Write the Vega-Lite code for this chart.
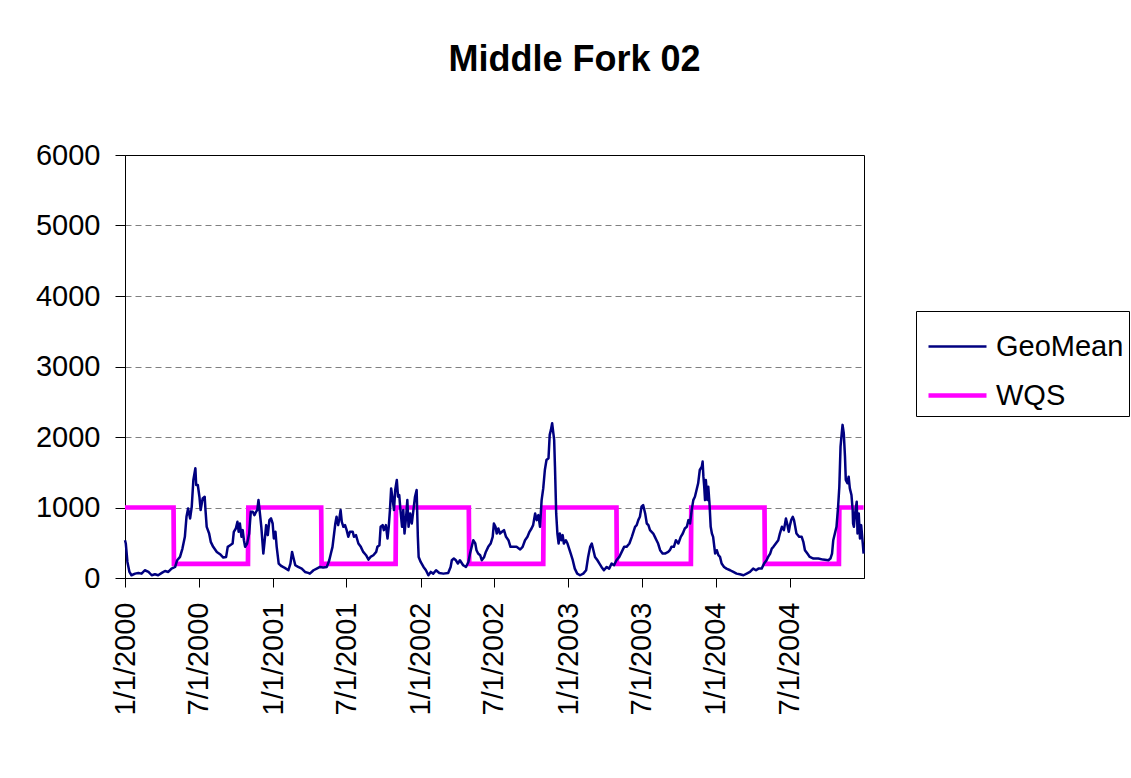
{
 "$schema": "https://vega.github.io/schema/vega-lite/v6.json",
 "width": 739,
 "height": 423,
 "autosize": {"type": "none"},
 "padding": {"left": 125, "top": 155, "right": 267, "bottom": 200},
 "background": "white",
 "title": {"text": "Middle Fork 02", "font": "Liberation Sans", "fontSize": 36, "fontWeight": "bold", "color": "black", "anchor": "middle", "frame": "group", "dx": 80, "offset": 62},
 "config": {"view": {"stroke": "black", "strokeWidth": 1}, "font": "Liberation Sans"},
 "data": {"values": [
  {"d":"2000-01-01","v":1000,"s":"WQS"},{"d":"2000-04-30","v":1000,"s":"WQS"},{"d":"2000-05-01","v":200,"s":"WQS"},{"d":"2000-10-31","v":200,"s":"WQS"},{"d":"2000-11-01","v":1000,"s":"WQS"},{"d":"2001-04-30","v":1000,"s":"WQS"},{"d":"2001-05-01","v":200,"s":"WQS"},{"d":"2001-10-31","v":200,"s":"WQS"},{"d":"2001-11-01","v":1000,"s":"WQS"},{"d":"2002-04-30","v":1000,"s":"WQS"},{"d":"2002-05-01","v":200,"s":"WQS"},{"d":"2002-10-31","v":200,"s":"WQS"},{"d":"2002-11-01","v":1000,"s":"WQS"},{"d":"2003-04-30","v":1000,"s":"WQS"},{"d":"2003-05-01","v":200,"s":"WQS"},{"d":"2003-10-31","v":200,"s":"WQS"},{"d":"2003-11-01","v":1000,"s":"WQS"},{"d":"2004-04-30","v":1000,"s":"WQS"},{"d":"2004-05-01","v":200,"s":"WQS"},{"d":"2004-10-31","v":200,"s":"WQS"},{"d":"2004-11-01","v":1000,"s":"WQS"},{"d":"2004-12-31","v":1000,"s":"WQS"},
  {"d":"2000-01-01","v":536,"s":"GeoMean"},{"d":"2000-01-03","v":489,"s":"GeoMean"},{"d":"2000-01-07","v":228,"s":"GeoMean"},{"d":"2000-01-12","v":86,"s":"GeoMean"},{"d":"2000-01-17","v":39,"s":"GeoMean"},{"d":"2000-01-26","v":62,"s":"GeoMean"},{"d":"2000-02-03","v":72,"s":"GeoMean"},{"d":"2000-02-11","v":62,"s":"GeoMean"},{"d":"2000-02-19","v":110,"s":"GeoMean"},{"d":"2000-02-28","v":86,"s":"GeoMean"},{"d":"2000-03-07","v":39,"s":"GeoMean"},{"d":"2000-03-15","v":53,"s":"GeoMean"},{"d":"2000-03-23","v":39,"s":"GeoMean"},{"d":"2000-04-01","v":72,"s":"GeoMean"},{"d":"2000-04-09","v":100,"s":"GeoMean"},{"d":"2000-04-17","v":86,"s":"GeoMean"},{"d":"2000-04-25","v":133,"s":"GeoMean"},{"d":"2000-05-04","v":157,"s":"GeoMean"},{"d":"2000-05-09","v":252,"s":"GeoMean"},{"d":"2000-05-16","v":299,"s":"GeoMean"},{"d":"2000-05-22","v":418,"s":"GeoMean"},{"d":"2000-05-28","v":584,"s":"GeoMean"},{"d":"2000-06-01","v":868,"s":"GeoMean"},{"d":"2000-06-05","v":987,"s":"GeoMean"},{"d":"2000-06-10","v":845,"s":"GeoMean"},{"d":"2000-06-14","v":1011,"s":"GeoMean"},{"d":"2000-06-18","v":1390,"s":"GeoMean"},{"d":"2000-06-23","v":1556,"s":"GeoMean"},{"d":"2000-06-25","v":1319,"s":"GeoMean"},{"d":"2000-06-29","v":1319,"s":"GeoMean"},{"d":"2000-07-03","v":1153,"s":"GeoMean"},{"d":"2000-07-06","v":963,"s":"GeoMean"},{"d":"2000-07-11","v":1129,"s":"GeoMean"},{"d":"2000-07-16","v":1153,"s":"GeoMean"},{"d":"2000-07-18","v":963,"s":"GeoMean"},{"d":"2000-07-21","v":726,"s":"GeoMean"},{"d":"2000-07-27","v":631,"s":"GeoMean"},{"d":"2000-07-31","v":513,"s":"GeoMean"},{"d":"2000-08-06","v":442,"s":"GeoMean"},{"d":"2000-08-15","v":370,"s":"GeoMean"},{"d":"2000-08-23","v":337,"s":"GeoMean"},{"d":"2000-08-31","v":290,"s":"GeoMean"},{"d":"2000-09-07","v":299,"s":"GeoMean"},{"d":"2000-09-11","v":442,"s":"GeoMean"},{"d":"2000-09-17","v":465,"s":"GeoMean"},{"d":"2000-09-23","v":489,"s":"GeoMean"},{"d":"2000-09-26","v":655,"s":"GeoMean"},{"d":"2000-10-01","v":702,"s":"GeoMean"},{"d":"2000-10-05","v":797,"s":"GeoMean"},{"d":"2000-10-08","v":655,"s":"GeoMean"},{"d":"2000-10-11","v":773,"s":"GeoMean"},{"d":"2000-10-15","v":584,"s":"GeoMean"},{"d":"2000-10-18","v":679,"s":"GeoMean"},{"d":"2000-10-21","v":536,"s":"GeoMean"},{"d":"2000-10-24","v":442,"s":"GeoMean"},{"d":"2000-10-29","v":489,"s":"GeoMean"},{"d":"2000-11-03","v":631,"s":"GeoMean"},{"d":"2000-11-07","v":939,"s":"GeoMean"},{"d":"2000-11-12","v":939,"s":"GeoMean"},{"d":"2000-11-16","v":892,"s":"GeoMean"},{"d":"2000-11-20","v":939,"s":"GeoMean"},{"d":"2000-11-23","v":963,"s":"GeoMean"},{"d":"2000-11-26","v":1105,"s":"GeoMean"},{"d":"2000-11-30","v":892,"s":"GeoMean"},{"d":"2000-12-03","v":726,"s":"GeoMean"},{"d":"2000-12-08","v":347,"s":"GeoMean"},{"d":"2000-12-11","v":513,"s":"GeoMean"},{"d":"2000-12-15","v":750,"s":"GeoMean"},{"d":"2000-12-19","v":608,"s":"GeoMean"},{"d":"2000-12-23","v":821,"s":"GeoMean"},{"d":"2000-12-27","v":845,"s":"GeoMean"},{"d":"2000-12-31","v":773,"s":"GeoMean"},
  {"d":"2001-01-03","v":560,"s":"GeoMean"},{"d":"2001-01-07","v":655,"s":"GeoMean"},{"d":"2001-01-10","v":442,"s":"GeoMean"},{"d":"2001-01-15","v":205,"s":"GeoMean"},{"d":"2001-01-22","v":167,"s":"GeoMean"},{"d":"2001-01-30","v":143,"s":"GeoMean"},{"d":"2001-02-08","v":110,"s":"GeoMean"},{"d":"2001-02-13","v":205,"s":"GeoMean"},{"d":"2001-02-17","v":370,"s":"GeoMean"},{"d":"2001-02-20","v":299,"s":"GeoMean"},{"d":"2001-02-25","v":181,"s":"GeoMean"},{"d":"2001-03-04","v":157,"s":"GeoMean"},{"d":"2001-03-13","v":133,"s":"GeoMean"},{"d":"2001-03-21","v":86,"s":"GeoMean"},{"d":"2001-03-29","v":72,"s":"GeoMean"},{"d":"2001-04-02","v":62,"s":"GeoMean"},{"d":"2001-04-11","v":110,"s":"GeoMean"},{"d":"2001-04-19","v":133,"s":"GeoMean"},{"d":"2001-04-27","v":157,"s":"GeoMean"},{"d":"2001-05-05","v":148,"s":"GeoMean"},{"d":"2001-05-14","v":157,"s":"GeoMean"},{"d":"2001-05-20","v":252,"s":"GeoMean"},{"d":"2001-05-24","v":347,"s":"GeoMean"},{"d":"2001-05-28","v":442,"s":"GeoMean"},{"d":"2001-06-01","v":631,"s":"GeoMean"},{"d":"2001-06-04","v":773,"s":"GeoMean"},{"d":"2001-06-07","v":868,"s":"GeoMean"},{"d":"2001-06-11","v":750,"s":"GeoMean"},{"d":"2001-06-14","v":845,"s":"GeoMean"},{"d":"2001-06-17","v":963,"s":"GeoMean"},{"d":"2001-06-20","v":797,"s":"GeoMean"},{"d":"2001-06-24","v":726,"s":"GeoMean"},{"d":"2001-06-28","v":750,"s":"GeoMean"},{"d":"2001-07-02","v":679,"s":"GeoMean"},{"d":"2001-07-06","v":584,"s":"GeoMean"},{"d":"2001-07-10","v":655,"s":"GeoMean"},{"d":"2001-07-17","v":655,"s":"GeoMean"},{"d":"2001-07-20","v":584,"s":"GeoMean"},{"d":"2001-07-25","v":608,"s":"GeoMean"},{"d":"2001-07-31","v":489,"s":"GeoMean"},{"d":"2001-08-06","v":442,"s":"GeoMean"},{"d":"2001-08-12","v":370,"s":"GeoMean"},{"d":"2001-08-19","v":323,"s":"GeoMean"},{"d":"2001-08-25","v":261,"s":"GeoMean"},{"d":"2001-08-30","v":299,"s":"GeoMean"},{"d":"2001-09-06","v":323,"s":"GeoMean"},{"d":"2001-09-13","v":370,"s":"GeoMean"},{"d":"2001-09-16","v":442,"s":"GeoMean"},{"d":"2001-09-21","v":465,"s":"GeoMean"},{"d":"2001-09-24","v":726,"s":"GeoMean"},{"d":"2001-09-29","v":750,"s":"GeoMean"},{"d":"2001-10-02","v":679,"s":"GeoMean"},{"d":"2001-10-07","v":750,"s":"GeoMean"},{"d":"2001-10-11","v":560,"s":"GeoMean"},{"d":"2001-10-14","v":726,"s":"GeoMean"},{"d":"2001-10-17","v":963,"s":"GeoMean"},{"d":"2001-10-20","v":1271,"s":"GeoMean"},{"d":"2001-10-24","v":1105,"s":"GeoMean"},{"d":"2001-10-27","v":963,"s":"GeoMean"},{"d":"2001-10-30","v":1248,"s":"GeoMean"},{"d":"2001-11-03","v":1390,"s":"GeoMean"},{"d":"2001-11-06","v":1153,"s":"GeoMean"},{"d":"2001-11-09","v":1177,"s":"GeoMean"},{"d":"2001-11-12","v":963,"s":"GeoMean"},{"d":"2001-11-16","v":726,"s":"GeoMean"},{"d":"2001-11-19","v":963,"s":"GeoMean"},{"d":"2001-11-22","v":631,"s":"GeoMean"},{"d":"2001-11-26","v":868,"s":"GeoMean"},{"d":"2001-11-29","v":1105,"s":"GeoMean"},{"d":"2001-12-02","v":726,"s":"GeoMean"},{"d":"2001-12-06","v":916,"s":"GeoMean"},{"d":"2001-12-10","v":773,"s":"GeoMean"},{"d":"2001-12-14","v":963,"s":"GeoMean"},{"d":"2001-12-18","v":1153,"s":"GeoMean"},{"d":"2001-12-22","v":1248,"s":"GeoMean"},{"d":"2001-12-25","v":584,"s":"GeoMean"},{"d":"2001-12-27","v":299,"s":"GeoMean"},
  {"d":"2002-01-01","v":228,"s":"GeoMean"},{"d":"2002-01-08","v":157,"s":"GeoMean"},{"d":"2002-01-14","v":110,"s":"GeoMean"},{"d":"2002-01-20","v":39,"s":"GeoMean"},{"d":"2002-01-26","v":86,"s":"GeoMean"},{"d":"2002-02-01","v":62,"s":"GeoMean"},{"d":"2002-02-08","v":110,"s":"GeoMean"},{"d":"2002-02-16","v":72,"s":"GeoMean"},{"d":"2002-02-26","v":62,"s":"GeoMean"},{"d":"2002-03-10","v":72,"s":"GeoMean"},{"d":"2002-03-16","v":157,"s":"GeoMean"},{"d":"2002-03-19","v":252,"s":"GeoMean"},{"d":"2002-03-24","v":276,"s":"GeoMean"},{"d":"2002-03-29","v":252,"s":"GeoMean"},{"d":"2002-04-03","v":205,"s":"GeoMean"},{"d":"2002-04-08","v":252,"s":"GeoMean"},{"d":"2002-04-16","v":181,"s":"GeoMean"},{"d":"2002-04-23","v":157,"s":"GeoMean"},{"d":"2002-04-29","v":228,"s":"GeoMean"},{"d":"2002-05-03","v":347,"s":"GeoMean"},{"d":"2002-05-07","v":442,"s":"GeoMean"},{"d":"2002-05-11","v":536,"s":"GeoMean"},{"d":"2002-05-16","v":489,"s":"GeoMean"},{"d":"2002-05-19","v":394,"s":"GeoMean"},{"d":"2002-05-23","v":347,"s":"GeoMean"},{"d":"2002-05-28","v":323,"s":"GeoMean"},{"d":"2002-06-01","v":252,"s":"GeoMean"},{"d":"2002-06-07","v":299,"s":"GeoMean"},{"d":"2002-06-11","v":370,"s":"GeoMean"},{"d":"2002-06-17","v":442,"s":"GeoMean"},{"d":"2002-06-23","v":489,"s":"GeoMean"},{"d":"2002-06-28","v":584,"s":"GeoMean"},{"d":"2002-07-01","v":773,"s":"GeoMean"},{"d":"2002-07-05","v":726,"s":"GeoMean"},{"d":"2002-07-08","v":631,"s":"GeoMean"},{"d":"2002-07-12","v":702,"s":"GeoMean"},{"d":"2002-07-16","v":631,"s":"GeoMean"},{"d":"2002-07-21","v":655,"s":"GeoMean"},{"d":"2002-07-26","v":679,"s":"GeoMean"},{"d":"2002-07-31","v":584,"s":"GeoMean"},{"d":"2002-08-06","v":536,"s":"GeoMean"},{"d":"2002-08-11","v":442,"s":"GeoMean"},{"d":"2002-08-18","v":442,"s":"GeoMean"},{"d":"2002-08-26","v":442,"s":"GeoMean"},{"d":"2002-09-04","v":404,"s":"GeoMean"},{"d":"2002-09-10","v":442,"s":"GeoMean"},{"d":"2002-09-16","v":536,"s":"GeoMean"},{"d":"2002-09-22","v":584,"s":"GeoMean"},{"d":"2002-09-27","v":655,"s":"GeoMean"},{"d":"2002-10-02","v":702,"s":"GeoMean"},{"d":"2002-10-06","v":750,"s":"GeoMean"},{"d":"2002-10-11","v":916,"s":"GeoMean"},{"d":"2002-10-15","v":821,"s":"GeoMean"},{"d":"2002-10-19","v":892,"s":"GeoMean"},{"d":"2002-10-23","v":726,"s":"GeoMean"},{"d":"2002-10-27","v":1105,"s":"GeoMean"},{"d":"2002-10-31","v":1271,"s":"GeoMean"},{"d":"2002-11-04","v":1532,"s":"GeoMean"},{"d":"2002-11-08","v":1674,"s":"GeoMean"},{"d":"2002-11-13","v":1698,"s":"GeoMean"},{"d":"2002-11-16","v":2030,"s":"GeoMean"},{"d":"2002-11-19","v":2101,"s":"GeoMean"},{"d":"2002-11-22","v":2196,"s":"GeoMean"},{"d":"2002-11-25","v":2054,"s":"GeoMean"},{"d":"2002-11-27","v":1959,"s":"GeoMean"},{"d":"2002-11-29","v":1580,"s":"GeoMean"},{"d":"2002-12-02","v":916,"s":"GeoMean"},{"d":"2002-12-05","v":631,"s":"GeoMean"},{"d":"2002-12-08","v":489,"s":"GeoMean"},{"d":"2002-12-11","v":631,"s":"GeoMean"},{"d":"2002-12-15","v":536,"s":"GeoMean"},{"d":"2002-12-18","v":608,"s":"GeoMean"},{"d":"2002-12-21","v":489,"s":"GeoMean"},{"d":"2002-12-26","v":536,"s":"GeoMean"},{"d":"2002-12-30","v":489,"s":"GeoMean"},
  {"d":"2003-01-03","v":418,"s":"GeoMean"},{"d":"2003-01-07","v":347,"s":"GeoMean"},{"d":"2003-01-12","v":252,"s":"GeoMean"},{"d":"2003-01-17","v":133,"s":"GeoMean"},{"d":"2003-01-23","v":62,"s":"GeoMean"},{"d":"2003-01-30","v":39,"s":"GeoMean"},{"d":"2003-02-07","v":62,"s":"GeoMean"},{"d":"2003-02-14","v":110,"s":"GeoMean"},{"d":"2003-02-19","v":299,"s":"GeoMean"},{"d":"2003-02-24","v":442,"s":"GeoMean"},{"d":"2003-02-28","v":489,"s":"GeoMean"},{"d":"2003-03-04","v":394,"s":"GeoMean"},{"d":"2003-03-08","v":299,"s":"GeoMean"},{"d":"2003-03-14","v":252,"s":"GeoMean"},{"d":"2003-03-19","v":205,"s":"GeoMean"},{"d":"2003-03-24","v":157,"s":"GeoMean"},{"d":"2003-03-30","v":110,"s":"GeoMean"},{"d":"2003-04-06","v":157,"s":"GeoMean"},{"d":"2003-04-12","v":133,"s":"GeoMean"},{"d":"2003-04-18","v":205,"s":"GeoMean"},{"d":"2003-04-24","v":181,"s":"GeoMean"},{"d":"2003-04-30","v":252,"s":"GeoMean"},{"d":"2003-05-07","v":299,"s":"GeoMean"},{"d":"2003-05-13","v":370,"s":"GeoMean"},{"d":"2003-05-19","v":442,"s":"GeoMean"},{"d":"2003-05-25","v":442,"s":"GeoMean"},{"d":"2003-06-01","v":489,"s":"GeoMean"},{"d":"2003-06-07","v":584,"s":"GeoMean"},{"d":"2003-06-11","v":655,"s":"GeoMean"},{"d":"2003-06-15","v":726,"s":"GeoMean"},{"d":"2003-06-19","v":750,"s":"GeoMean"},{"d":"2003-06-23","v":821,"s":"GeoMean"},{"d":"2003-06-27","v":868,"s":"GeoMean"},{"d":"2003-07-01","v":1011,"s":"GeoMean"},{"d":"2003-07-05","v":1034,"s":"GeoMean"},{"d":"2003-07-10","v":916,"s":"GeoMean"},{"d":"2003-07-14","v":773,"s":"GeoMean"},{"d":"2003-07-18","v":750,"s":"GeoMean"},{"d":"2003-07-22","v":679,"s":"GeoMean"},{"d":"2003-07-26","v":655,"s":"GeoMean"},{"d":"2003-07-30","v":631,"s":"GeoMean"},{"d":"2003-08-03","v":584,"s":"GeoMean"},{"d":"2003-08-07","v":536,"s":"GeoMean"},{"d":"2003-08-11","v":489,"s":"GeoMean"},{"d":"2003-08-16","v":394,"s":"GeoMean"},{"d":"2003-08-22","v":347,"s":"GeoMean"},{"d":"2003-08-28","v":347,"s":"GeoMean"},{"d":"2003-09-05","v":370,"s":"GeoMean"},{"d":"2003-09-09","v":394,"s":"GeoMean"},{"d":"2003-09-13","v":442,"s":"GeoMean"},{"d":"2003-09-19","v":442,"s":"GeoMean"},{"d":"2003-09-24","v":536,"s":"GeoMean"},{"d":"2003-09-30","v":489,"s":"GeoMean"},{"d":"2003-10-06","v":584,"s":"GeoMean"},{"d":"2003-10-11","v":631,"s":"GeoMean"},{"d":"2003-10-16","v":702,"s":"GeoMean"},{"d":"2003-10-21","v":726,"s":"GeoMean"},{"d":"2003-10-25","v":821,"s":"GeoMean"},{"d":"2003-10-29","v":773,"s":"GeoMean"},{"d":"2003-11-02","v":963,"s":"GeoMean"},{"d":"2003-11-06","v":1105,"s":"GeoMean"},{"d":"2003-11-10","v":1153,"s":"GeoMean"},{"d":"2003-11-14","v":1248,"s":"GeoMean"},{"d":"2003-11-18","v":1343,"s":"GeoMean"},{"d":"2003-11-22","v":1532,"s":"GeoMean"},{"d":"2003-11-27","v":1580,"s":"GeoMean"},{"d":"2003-11-29","v":1651,"s":"GeoMean"},{"d":"2003-12-01","v":1437,"s":"GeoMean"},{"d":"2003-12-03","v":1295,"s":"GeoMean"},{"d":"2003-12-05","v":1105,"s":"GeoMean"},{"d":"2003-12-07","v":1390,"s":"GeoMean"},{"d":"2003-12-11","v":1105,"s":"GeoMean"},{"d":"2003-12-13","v":1295,"s":"GeoMean"},{"d":"2003-12-16","v":1058,"s":"GeoMean"},{"d":"2003-12-19","v":726,"s":"GeoMean"},{"d":"2003-12-22","v":631,"s":"GeoMean"},{"d":"2003-12-25","v":584,"s":"GeoMean"},{"d":"2003-12-30","v":347,"s":"GeoMean"},
  {"d":"2004-01-03","v":394,"s":"GeoMean"},{"d":"2004-01-07","v":323,"s":"GeoMean"},{"d":"2004-01-11","v":299,"s":"GeoMean"},{"d":"2004-01-15","v":205,"s":"GeoMean"},{"d":"2004-01-21","v":157,"s":"GeoMean"},{"d":"2004-01-27","v":133,"s":"GeoMean"},{"d":"2004-02-05","v":110,"s":"GeoMean"},{"d":"2004-02-13","v":86,"s":"GeoMean"},{"d":"2004-02-21","v":62,"s":"GeoMean"},{"d":"2004-02-29","v":53,"s":"GeoMean"},{"d":"2004-03-09","v":39,"s":"GeoMean"},{"d":"2004-03-17","v":62,"s":"GeoMean"},{"d":"2004-03-25","v":86,"s":"GeoMean"},{"d":"2004-04-02","v":133,"s":"GeoMean"},{"d":"2004-04-09","v":110,"s":"GeoMean"},{"d":"2004-04-15","v":133,"s":"GeoMean"},{"d":"2004-04-23","v":133,"s":"GeoMean"},{"d":"2004-04-29","v":205,"s":"GeoMean"},{"d":"2004-05-05","v":252,"s":"GeoMean"},{"d":"2004-05-09","v":299,"s":"GeoMean"},{"d":"2004-05-14","v":347,"s":"GeoMean"},{"d":"2004-05-18","v":418,"s":"GeoMean"},{"d":"2004-05-22","v":442,"s":"GeoMean"},{"d":"2004-05-28","v":489,"s":"GeoMean"},{"d":"2004-06-03","v":536,"s":"GeoMean"},{"d":"2004-06-07","v":631,"s":"GeoMean"},{"d":"2004-06-12","v":726,"s":"GeoMean"},{"d":"2004-06-17","v":679,"s":"GeoMean"},{"d":"2004-06-22","v":845,"s":"GeoMean"},{"d":"2004-06-25","v":773,"s":"GeoMean"},{"d":"2004-06-29","v":655,"s":"GeoMean"},{"d":"2004-07-02","v":750,"s":"GeoMean"},{"d":"2004-07-05","v":821,"s":"GeoMean"},{"d":"2004-07-09","v":868,"s":"GeoMean"},{"d":"2004-07-12","v":821,"s":"GeoMean"},{"d":"2004-07-15","v":726,"s":"GeoMean"},{"d":"2004-07-18","v":631,"s":"GeoMean"},{"d":"2004-07-25","v":584,"s":"GeoMean"},{"d":"2004-07-31","v":584,"s":"GeoMean"},{"d":"2004-08-04","v":513,"s":"GeoMean"},{"d":"2004-08-08","v":394,"s":"GeoMean"},{"d":"2004-08-14","v":347,"s":"GeoMean"},{"d":"2004-08-20","v":299,"s":"GeoMean"},{"d":"2004-08-29","v":276,"s":"GeoMean"},{"d":"2004-09-10","v":276,"s":"GeoMean"},{"d":"2004-09-22","v":261,"s":"GeoMean"},{"d":"2004-10-05","v":252,"s":"GeoMean"},{"d":"2004-10-10","v":276,"s":"GeoMean"},{"d":"2004-10-14","v":347,"s":"GeoMean"},{"d":"2004-10-17","v":536,"s":"GeoMean"},{"d":"2004-10-21","v":631,"s":"GeoMean"},{"d":"2004-10-25","v":726,"s":"GeoMean"},{"d":"2004-10-29","v":1011,"s":"GeoMean"},{"d":"2004-11-01","v":1295,"s":"GeoMean"},{"d":"2004-11-04","v":1864,"s":"GeoMean"},{"d":"2004-11-07","v":2054,"s":"GeoMean"},{"d":"2004-11-09","v":2172,"s":"GeoMean"},{"d":"2004-11-12","v":2054,"s":"GeoMean"},{"d":"2004-11-15","v":1722,"s":"GeoMean"},{"d":"2004-11-17","v":1390,"s":"GeoMean"},{"d":"2004-11-21","v":1343,"s":"GeoMean"},{"d":"2004-11-24","v":1437,"s":"GeoMean"},{"d":"2004-11-27","v":1271,"s":"GeoMean"},{"d":"2004-12-01","v":1177,"s":"GeoMean"},{"d":"2004-12-04","v":963,"s":"GeoMean"},{"d":"2004-12-05","v":773,"s":"GeoMean"},{"d":"2004-12-07","v":726,"s":"GeoMean"},{"d":"2004-12-10","v":916,"s":"GeoMean"},{"d":"2004-12-14","v":1082,"s":"GeoMean"},{"d":"2004-12-16","v":631,"s":"GeoMean"},{"d":"2004-12-19","v":916,"s":"GeoMean"},{"d":"2004-12-22","v":560,"s":"GeoMean"},{"d":"2004-12-25","v":750,"s":"GeoMean"},{"d":"2004-12-29","v":489,"s":"GeoMean"},{"d":"2004-12-31","v":347,"s":"GeoMean"}
 ]},
 "encoding": {
  "x": {"field": "d", "type": "temporal",
   "scale": {"type": "utc", "domain": [{"year": 2000, "month": 1, "date": 1, "utc": true}, {"year": 2005, "month": 1, "date": 1, "utc": true}]},
   "axis": {"title": null, "values": [
     {"year": 2000, "month": 1, "date": 1, "utc": true}, {"year": 2000, "month": 7, "date": 1, "utc": true},
     {"year": 2001, "month": 1, "date": 1, "utc": true}, {"year": 2001, "month": 7, "date": 1, "utc": true},
     {"year": 2002, "month": 1, "date": 1, "utc": true}, {"year": 2002, "month": 7, "date": 1, "utc": true},
     {"year": 2003, "month": 1, "date": 1, "utc": true}, {"year": 2003, "month": 7, "date": 1, "utc": true},
     {"year": 2004, "month": 1, "date": 1, "utc": true}, {"year": 2004, "month": 7, "date": 1, "utc": true}],
    "format": "%-m/%-d/%Y", "labelAngle": -90, "labelFont": "Liberation Sans", "labelFontSize": 29, "labelColor": "black",
    "tickSize": 9, "tickColor": "black", "domainColor": "black", "labelPadding": 15, "grid": false, "labelOverlap": false, "labelFlush": false}},
  "y": {"field": "v", "type": "quantitative",
   "scale": {"domain": [0, 6000], "nice": false},
   "axis": {"title": null, "values": [0, 1000, 2000, 3000, 4000, 5000, 6000], "format": "d", "labelFont": "Liberation Sans", "labelFontSize": 29, "labelColor": "black",
    "tickSize": 10, "tickColor": "black", "domainColor": "black", "labelPadding": 15, "labelOverlap": false, "labelFlush": false,
    "grid": true, "gridColor": "#808080", "gridDash": [6, 4], "gridWidth": 1,
    "gridOpacity": {"condition": {"test": "datum.value <= 0 || datum.value >= 6000", "value": 0}, "value": 1}}},
  "color": {"field": "s", "type": "nominal",
   "scale": {"domain": ["GeoMean", "WQS"], "range": ["#000080", "#FF00FF"]},
   "legend": {"title": null, "orient": "none", "legendX": 791, "legendY": 156, "symbolType": "stroke", "symbolSize": 3364, "symbolOffset": 5,
    "labelFont": "Liberation Sans", "labelFontSize": 29, "labelColor": "black", "labelOffset": 7, "padding": 5,
    "strokeColor": "black", "fillColor": "white", "rowPadding": 2}},
  "strokeWidth": {"field": "s", "type": "ordinal",
   "scale": {"domain": ["GeoMean", "WQS"], "range": [2.5, 4.7]},
   "legend": {"title": null, "orient": "none", "legendX": 791, "legendY": 156, "symbolType": "stroke", "symbolSize": 3364, "symbolOffset": 5,
    "labelFont": "Liberation Sans", "labelFontSize": 29, "labelColor": "black", "labelOffset": 7, "padding": 5,
    "strokeColor": "black", "fillColor": "white", "rowPadding": 2}}
 },
 "layer": [
  {"transform": [{"filter": "datum.s === 'WQS'"}], "mark": {"type": "line", "strokeJoin": "miter"}},
  {"transform": [{"filter": "datum.s === 'GeoMean'"}], "mark": {"type": "line", "strokeJoin": "round"}}
 ]
}
